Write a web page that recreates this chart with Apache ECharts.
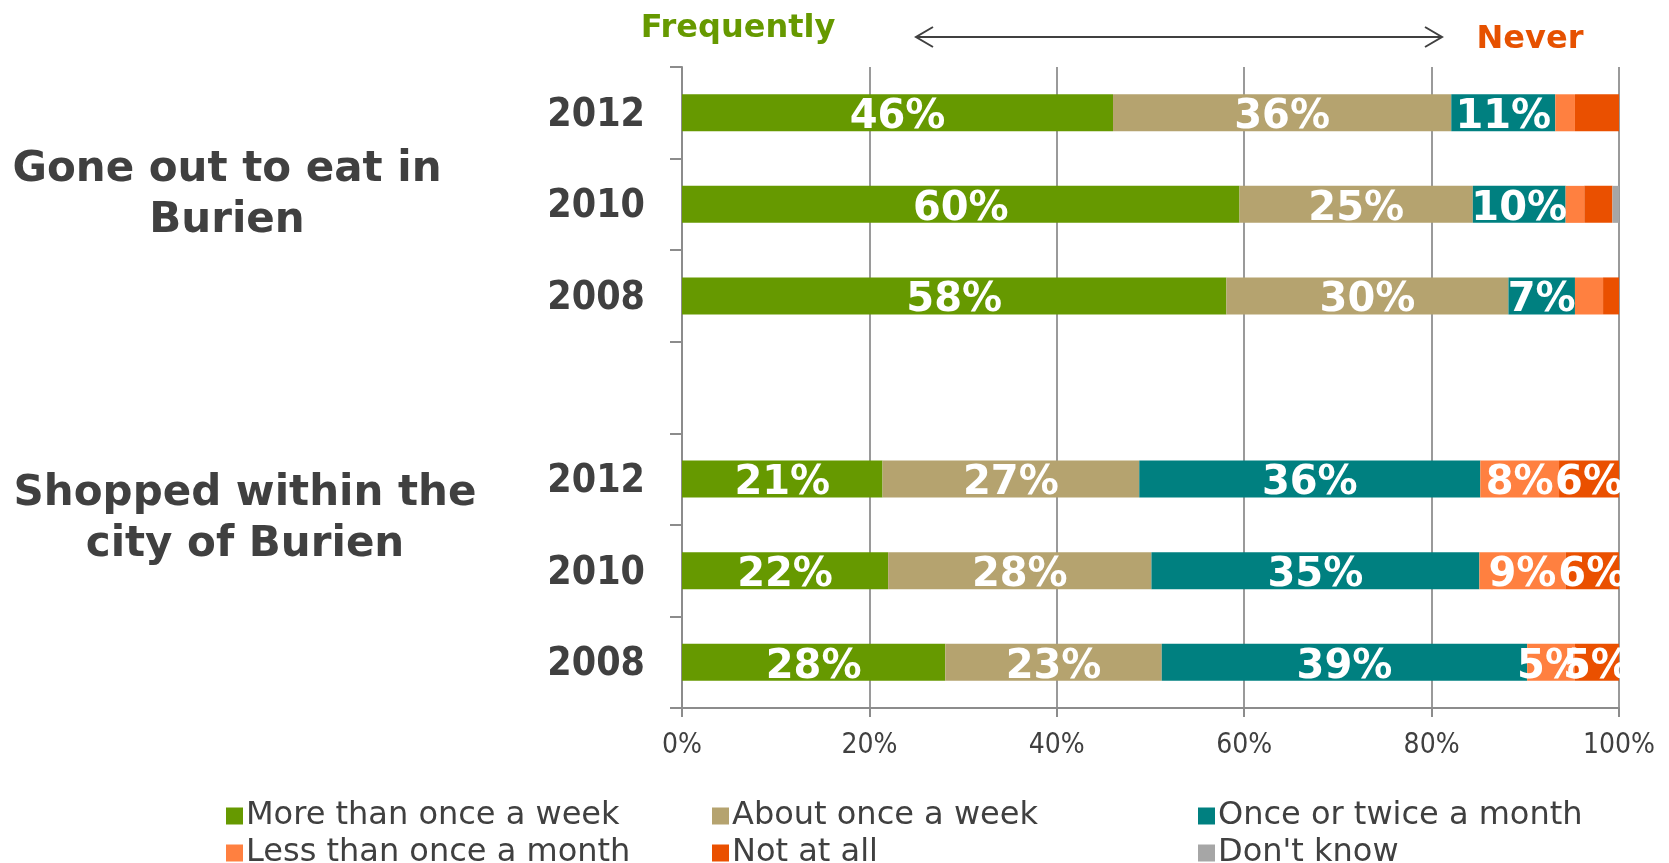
<!DOCTYPE html>
<html>
<head>
<meta charset="utf-8">
<title>Burien</title>
<script src="https://cdn.jsdelivr.net/npm/echarts@6/dist/echarts.min.js"></script>
<style>
  html, body { margin: 0; padding: 0; background: #fff; }
  #chart { width: 1669px; height: 863px; }
</style>
</head>
<body>
<div id="chart"></div>
<script>
// categories (top to bottom); the blank one is the gap between the two groups
const yearLabels = ['2012', '2010', '2008', '', '2012', '2010', '2008'];
const groupLabels = ['Gone out to eat in\nBurien', 'Shopped within the\ncity of Burien'];
const tickLabels = ['0%', '20%', '40%', '60%', '80%', '100%'];

// series values, in %
const moreThanWeek = [46.0, 59.5, 58.1, '-', 21.4, 22.0, 28.1];
const aboutWeek = [36.1, 24.9, 30.1, '-', 27.4, 28.1, 23.1];
const onceTwiceMonth = [11.1, 9.9, 7.1, '-', 36.4, 35.0, 39.0];
const lessThanMonth = [2.1, 2.0, 3.0, '-', 8.4, 9.2, 5.1];
const notAtAll = [4.7, 3.0, 1.7, '-', 6.4, 5.7, 4.7];
const dontKnow = [0, 0.7, 0, '-', 0, 0, 0];

// smallest value that still gets a data label, per row
const labelMin = [6, 6, 6, 0, 4.5, 4.5, 4.5];

const seriesNames = ['More than once a week', 'About once a week', 'Once or twice a month',
    'Less than once a month', 'Not at all', "Don't know"];
const seriesValues = [moreThanWeek, aboutWeek, onceTwiceMonth, lessThanMonth, notAtAll, dontKnow];
const seriesColors = ['#669900', '#B5A36F', '#008080', '#FF8040', '#EA5000', '#A6A6A6'];

const FONT = 'DejaVu Sans';
const FONT_NARROW = '"DejaVu Sans Condensed", "DejaVu Sans"';
const TEXT = '#404040';
const AXIS = '#8C8C8C';

(function () {
    let myChart = echarts.init(document.getElementById('chart'));

    let series = seriesNames.map(function (name, i) {
        return {
            name: name,
            type: 'bar',
            stack: 'total',
            barWidth: 37,
            itemStyle: { color: seriesColors[i] },
            label: {
                show: true,
                position: 'inside',
                offset: [0, 5],
                color: '#fff',
                fontFamily: FONT,
                fontWeight: 'bold',
                fontSize: 40,
                textBorderWidth: 0,
                formatter: function (p) {
                    return p.value >= labelMin[p.dataIndex] ? Math.round(p.value) + '%' : '';
                }
            },
            data: seriesValues[i]
        };
    });

    // legend: 2 rows x 3 columns, one legend per item so the columns line up
    let legendLeft = [221, 707, 1193];
    let legendTop = [795, 832];
    let legends = seriesNames.map(function (name, i) {
        return {
            left: legendLeft[i % 3],
            top: legendTop[Math.floor(i / 3)],
            icon: 'rect',
            itemWidth: 17,
            itemHeight: 17,
            selectedMode: false,
            textStyle: { fontFamily: FONT, fontSize: 32, lineHeight: 32, color: TEXT, padding: [0, 0, 0, -2] },
            data: [name]
        };
    });

    let option = {
        animation: false,
        grid: { left: 682, right: 50, top: 67, bottom: 155, containLabel: false },
        xAxis: {
            type: 'value',
            min: 0,
            max: 100,
            interval: 20,
            axisLine: { show: true, lineStyle: { color: AXIS, width: 2 } },
            axisTick: { show: true, length: 9, lineStyle: { color: AXIS, width: 2 } },
            splitLine: { show: true, lineStyle: { color: '#9A9A9A', width: 2 } },
            axisLabel: {
                margin: 24,
                fontFamily: FONT_NARROW,
                fontSize: 28,
                color: TEXT,
                formatter: function (v) { return tickLabels[v / 20]; }
            }
        },
        yAxis: {
            type: 'category',
            inverse: true,
            data: yearLabels,
            axisLine: { show: true, lineStyle: { color: AXIS, width: 2 } },
            axisTick: { show: true, length: 12, lineStyle: { color: AXIS, width: 2 } },
            axisLabel: {
                margin: 37, verticalAlign: 'top', lineHeight: 6,
                fontFamily: FONT_NARROW, fontWeight: 'bold', fontSize: 39, color: TEXT
            }
        },
        legend: legends,
        graphic: [
            {
                type: 'text', x: 227, y: 196,
                style: { text: groupLabels[0], font: 'bold 42px "DejaVu Sans"', fill: TEXT,
                    align: 'center', verticalAlign: 'middle', lineHeight: 51 }
            },
            {
                type: 'text', x: 245, y: 520,
                style: { text: groupLabels[1], font: 'bold 42px "DejaVu Sans"', fill: TEXT,
                    align: 'center', verticalAlign: 'middle', lineHeight: 51 }
            },
            {
                type: 'text', x: 738, y: 29,
                style: { text: 'Frequently', font: 'bold 32px "DejaVu Sans"', fill: '#669900',
                    align: 'center', verticalAlign: 'middle' }
            },
            {
                type: 'text', x: 1530, y: 40,
                style: { text: 'Never', font: 'bold 32px "DejaVu Sans"', fill: '#E65100',
                    align: 'center', verticalAlign: 'middle' }
            },
            {
                type: 'line',
                shape: { x1: 916, y1: 37, x2: 1442, y2: 37 },
                style: { stroke: TEXT, lineWidth: 2 }
            },
            {
                type: 'polyline',
                shape: { points: [[933, 27], [916, 37], [933, 47]] },
                style: { stroke: TEXT, lineWidth: 2, fill: null }
            },
            {
                type: 'polyline',
                shape: { points: [[1425, 27], [1442, 37], [1425, 47]] },
                style: { stroke: TEXT, lineWidth: 2, fill: null }
            }
        ],
        series: series
    };

    myChart.setOption(option);
    window.addEventListener('resize', function () {
        myChart.resize();
    });
})();
</script>
</body>
</html>
